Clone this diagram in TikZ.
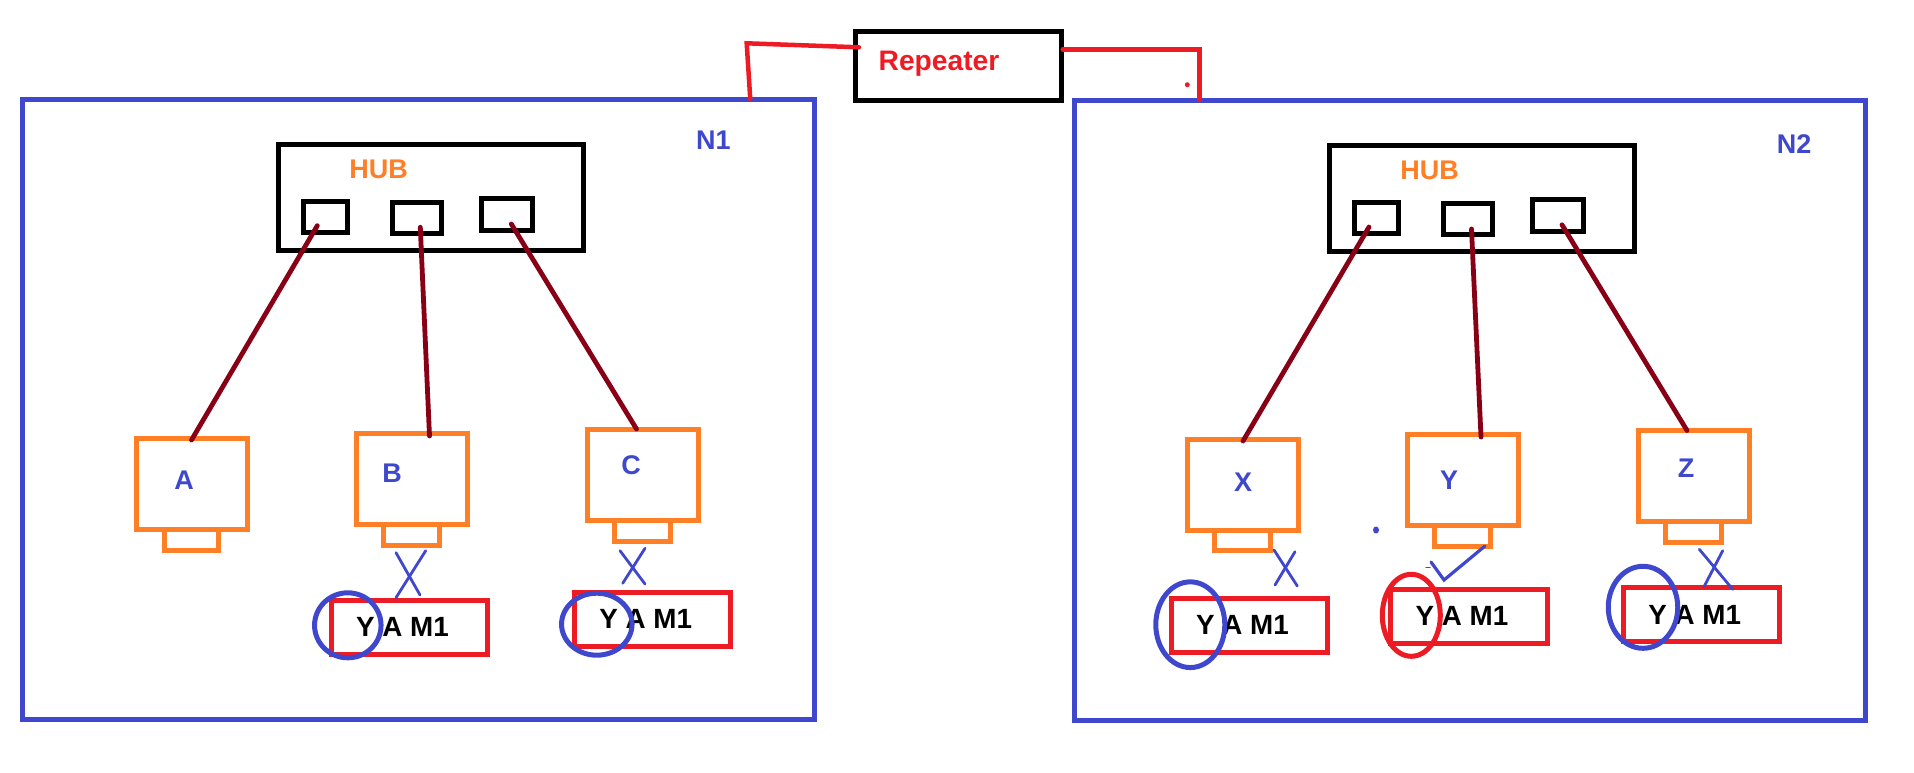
\documentclass[tikz,border=0pt]{standalone}
\usepackage{fontspec}
\setmainfont{Liberation Sans}
\usetikzlibrary{shapes.geometric}
\definecolor{pblue}{HTML}{3F48CC}
\definecolor{porange}{HTML}{FF7F27}
\definecolor{pred}{HTML}{ED1C24}
\definecolor{pwire}{HTML}{880015}
\newcommand\bx[6]{%
  \pgfmathsetmacro\bcx{(#3+#5)/2}\pgfmathsetmacro\bcy{(#4+#6)/2}%
  \pgfmathsetmacro\bw{#5-#3}\pgfmathsetmacro\bh{#6-#4}%
  \node[#1,minimum width=\bw pt,minimum height=\bh pt] (#2) at (\bcx,\bcy) {};}
\newcommand\fnt[1]{\fontsize{#1}{#1}\selectfont\bfseries}
\tikzset{
  x=1pt,y=-1pt,
  plain/.style={rectangle,draw,inner sep=0pt,outer sep=0pt,line width=5pt},
  netbox/.style={plain,draw=pblue},
  hubbox/.style={plain,draw=black},
  portbox/.style={plain,draw=black},
  pc/.style={plain,draw=porange},
  standbox/.style={plain,draw=porange},
  yam/.style={plain,draw=pred},
  repbox/.style={plain,draw=black},
  wire/.style={draw=pwire,line width=4.8pt,line cap=round},
  link/.style={draw=pred,line width=4.5pt,line cap=round},
  xmark/.style={draw=pblue,line width=2.8pt,line cap=round},
  ring/.style={ellipse,draw=pblue,line width=5pt,inner sep=0pt,outer sep=0pt,minimum width=#1},
  redring/.style={ring=#1,draw=pred},
  lbl/.style={text=pblue,inner sep=0pt,font=\fnt{27}},
  hublbl/.style={text=porange,inner sep=0pt,font=\fnt{27}},
  yamlbl/.style={text=black,inner sep=0pt,font=\fnt{27.8}},
  replbl/.style={text=pred,inner sep=0pt,font=\fnt{28.2}},
}
\begin{document}
\begin{tikzpicture}
\useasboundingbox (0,0) rectangle (1914,773);
% networks
\bx{netbox}{n1}{22.5}{100}{814}{719.3}
\bx{netbox}{n2}{1074}{101}{1865}{720}
% repeater
\bx{repbox}{rep}{855}{32}{1061}{101}
\node[replbl] (reptext) at (939,64) {Repeater};
\coordinate (lcorner) at (746.7,43.3);
\coordinate (rcorner) at (1199.3,49.3);
\draw[link] ([shift={(332,-1)}]n1.north) -- (lcorner) -- ([shift={(4,-19.2)}]rep.west);
\draw[link] ([shift={(1.7,-17.2)}]rep.east) -- (rcorner) -- ([shift={(-270.2,-1)}]n2.north);
\node[circle,fill=pred,inner sep=0pt,minimum size=5pt] (rdot) at (1187.3,84.7) {};
% hub 1
\bx{hubbox}{hub1}{278.3}{144.5}{583.5}{250.5}
\node[hublbl] (hublbl1) at (378.7,169.3) {HUB};
\bx{portbox}{p1}{303.3}{201.3}{347.7}{232.7}
\bx{portbox}{p2}{392.3}{202.3}{441.7}{233.7}
\bx{portbox}{p3}{481.3}{198.3}{532.7}{230.3}
\node[lbl] (n1lbl) at (713.3,140.3) {N1};
% computers 1
\bx{pc}{A}{136}{438}{247}{529}
\bx{standbox}{As}{164}{529}{218}{550}
\bx{pc}{B}{356}{433}{467}{524}
\bx{standbox}{Bs}{383}{524}{439}{545}
\bx{pc}{C}{587}{429}{698}{520}
\bx{standbox}{Cs}{614}{520}{670}{541}
\node[lbl] (Al) at (184,480) {A};
\node[lbl] (Bl) at (392,473) {B};
\node[lbl] (Cl) at (631,465) {C};
\draw[wire] ([shift={(-8.2,8.7)}]p1.center) -- ([shift={(0,2)}]A.north);
\draw[wire] ([shift={(3.3,9.3)}]p2.center) -- ([shift={(18,3)}]B.north);
\draw[wire] ([shift={(4.3,9.7)}]p3.center) -- ([shift={(-6,0)}]C.north);
% frames 1
\bx{yam}{y1}{331.5}{600.5}{487.8}{654.5}
\node[yamlbl] (y1t) at (402.5,626.7) {Y A M1};
\node[ring=66.5pt,minimum height=65pt] (r1) at (347.8,625.3) {};
\bx{yam}{y2}{574.5}{592.2}{730.5}{646}
\node[yamlbl] (y2t) at (645.7,618.9) {Y A M1};
\node[ring=70.5pt,minimum height=62pt] (r2) at (596.8,624.2) {};
% marks 1
\coordinate (m1a) at (396,552.7); \coordinate (m1b) at (420,595);
\coordinate (m1c) at (425.7,550.7); \coordinate (m1d) at (396,597.7);
\draw[xmark] (m1a) -- (m1b); \draw[xmark] (m1c) -- (m1d);
\coordinate (m2a) at (620,550.7); \coordinate (m2b) at (645,584);
\coordinate (m2c) at (645,548.3); \coordinate (m2d) at (622.7,583.3);
\draw[xmark] (m2a) -- (m2b); \draw[xmark] (m2c) -- (m2d);
% hub 2
\bx{hubbox}{hub2}{1329.3}{145.5}{1634.5}{251.5}
\node[hublbl] (hublbl2) at (1429.7,170.3) {HUB};
\bx{portbox}{q1}{1354.3}{202.3}{1398.7}{233.7}
\bx{portbox}{q2}{1443.3}{203.3}{1492.7}{234.7}
\bx{portbox}{q3}{1532.3}{199.3}{1583.7}{231.3}
\node[lbl] (n2lbl) at (1794,144.5) {N2};
% computers 2
\bx{pc}{X}{1187}{439}{1298}{530}
\bx{standbox}{Xs}{1214}{530}{1270}{550.5}
\bx{pc}{Y}{1407}{434}{1518}{525}
\bx{standbox}{Ys}{1434}{525}{1490}{546}
\bx{pc}{Z}{1638}{430}{1749}{521}
\bx{standbox}{Zs}{1665}{521}{1721}{542}
\node[lbl] (Xl) at (1243,482) {X};
\node[lbl] (Yl) at (1449,480) {Y};
\node[lbl] (Zl) at (1686,468) {Z};
\draw[wire] ([shift={(-7.5,9)}]q1.center) -- ([shift={(0.5,2)}]X.north);
\draw[wire] ([shift={(3.5,10)}]q2.center) -- ([shift={(18.5,3)}]Y.north);
\draw[wire] ([shift={(4,9.5)}]q3.center) -- ([shift={(-6.5,0.5)}]Z.north);
% frames 2
\bx{yam}{y3}{1171.5}{598.2}{1327.8}{652.8}
\node[yamlbl] (y3t) at (1242.5,625) {Y A M1};
\node[ring=69pt,minimum height=85.7pt] (r3) at (1190.3,624.7) {};
\bx{yam}{y4}{1390.5}{589.5}{1547.8}{643.5}
\node[yamlbl] (y4t) at (1462,616) {Y A M1};
\node[redring=58pt,minimum height=82pt] (r4) at (1411.3,615.3) {};
\bx{yam}{y5}{1623.2}{587.2}{1779.5}{641.5}
\node[yamlbl] (y5t) at (1694.7,614.5) {Y A M1};
\node[ring=69.5pt,minimum height=82pt] (r5) at (1643,607.3) {};
% marks 2
\coordinate (m3a) at (1274,550); \coordinate (m3b) at (1297.3,586);
\coordinate (m3c) at (1295,551.7); \coordinate (m3d) at (1275,585);
\draw[xmark] (m3a) -- (m3b); \draw[xmark] (m3c) -- (m3d);
\coordinate (m5a) at (1699.3,549.3); \coordinate (m5b) at (1732.7,589.3);
\coordinate (m5c) at (1722.7,550.7); \coordinate (m5d) at (1704,586.7);
\draw[xmark] (m5a) -- (m5b); \draw[xmark] (m5c) -- (m5d);
% tick
\coordinate (t1) at (1431,562); \coordinate (t2) at (1444,580); \coordinate (t3) at (1485,546);
\draw[xmark,line width=3.2pt] (t1) -- (t2) -- (t3);
\coordinate (t4) at (1426,567.5); \coordinate (t5) at (1430,567.5);
\draw[xmark,line width=1.2pt] (t4) -- (t5);
\node[ellipse,fill=pblue,inner sep=0pt,minimum width=6pt,minimum height=7pt] (bdot) at (1376,530) {};
\end{tikzpicture}
\end{document}
